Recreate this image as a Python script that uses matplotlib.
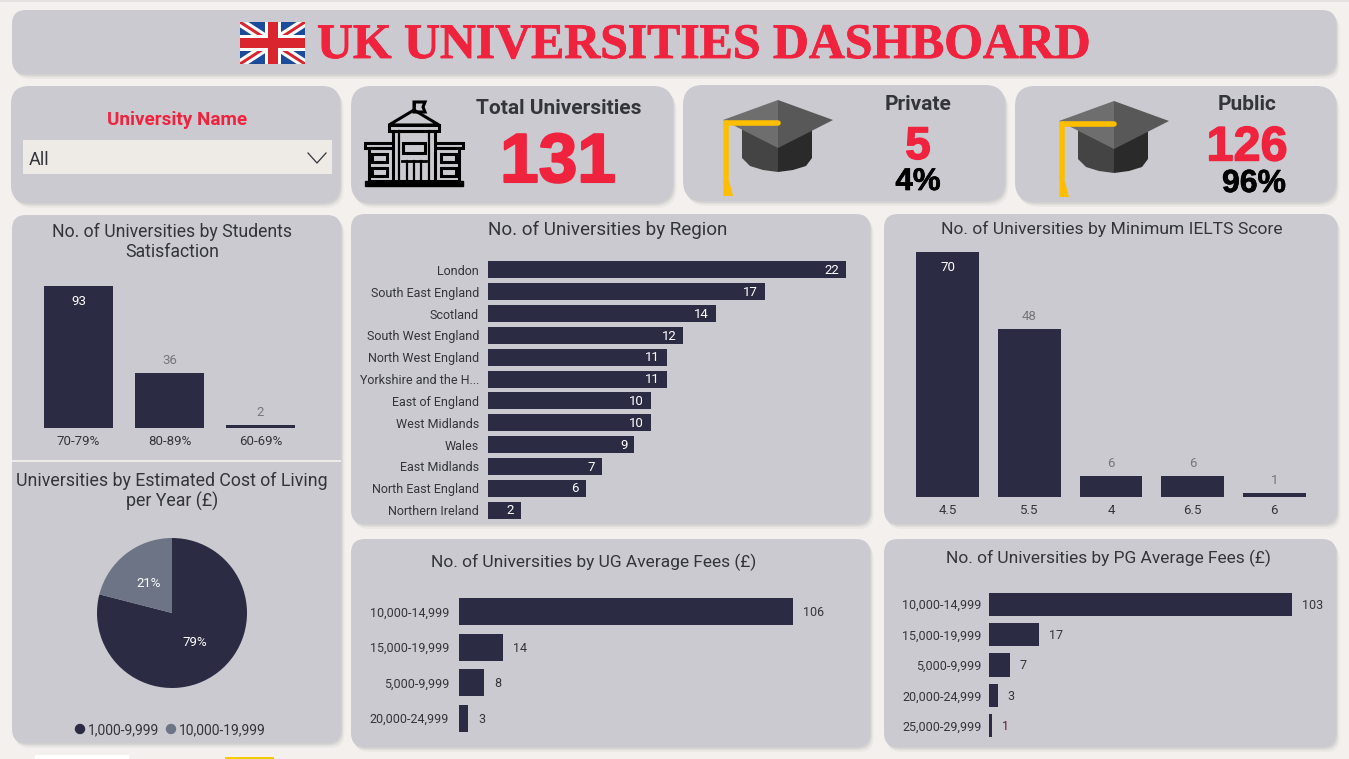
import matplotlib
matplotlib.use("Agg")
import matplotlib.pyplot as plt
import matplotlib.patheffects as pe
from matplotlib.patches import FancyBboxPatch, Rectangle, Polygon, Circle

# values
sat_cat = ["70-79%", "80-89%", "60-69%"]
sat_val = [93, 36, 2]
region_cat = ["London", "South East England", "Scotland", "South West England", "North West England",
              "Yorkshire and the H...", "East of England", "West Midlands", "Wales", "East Midlands",
              "North East England", "Northern Ireland"]
region_val = [22, 17, 14, 12, 11, 11, 10, 10, 9, 7, 6, 2]
ielts_cat = ["4.5", "5.5", "4", "6.5", "6"]
ielts_val = [70, 48, 6, 6, 1]
ug_cat = ["10,000-14,999", "15,000-19,999", "5,000-9,999", "20,000-24,999"]
ug_val = [106, 14, 8, 3]
pg_cat = ["10,000-14,999", "15,000-19,999", "5,000-9,999", "20,000-24,999", "25,000-29,999"]
pg_val = [103, 17, 7, 3, 1]
cost_cat = ["1,000-9,999", "10,000-19,999"]
cost_val = [79, 21]

W, H = 1349, 759
BG = "#F3F0ED"
CARD = "#CBCAD0"
DARK = "#2B2C43"
SLATE = "#6C7485"
RED = "#F0233F"
TXT = "#33353B"
GREY = "#77767A"
FONT = "Roboto"
plt.rcParams["font.family"] = [FONT, "DejaVu Sans"]

fig = plt.figure(figsize=(W / 100, H / 100), dpi=100, facecolor=BG)
bg = fig.add_axes([0, 0, 1, 1], zorder=0)
bg.set_xlim(0, W)
bg.set_ylim(H, 0)
bg.axis("off")


def ax_px(x0, y0, x1, y1):
    ax = fig.add_axes([x0 / W, 1 - y1 / H, (x1 - x0) / W, (y1 - y0) / H], zorder=2)
    ax.patch.set_alpha(0)
    for s in ax.spines.values():
        s.set_visible(False)
    ax.tick_params(length=0)
    return ax


def card(x0, y0, x1, y1, r=14):
    for i, a in zip([5, 3, 1.5], [0.05, 0.07, 0.09]):
        bg.add_patch(FancyBboxPatch((x0 + r + i * 0.7, y0 + r + i), x1 - x0 - 2 * r, y1 - y0 - 2 * r,
                                    boxstyle=f"round,pad={r},rounding_size={r}", fc="#55555f", ec="none", alpha=a))
    bg.add_patch(FancyBboxPatch((x0 + r, y0 + r), x1 - x0 - 2 * r, y1 - y0 - 2 * r,
                                boxstyle=f"round,pad={r},rounding_size={r}", fc=CARD, ec="none"))


def txt(x, y, s, size=12.5, color=TXT, weight="normal", family=None, ha="center", stroke=0):
    t = bg.text(x, y, s, fontsize=size, color=color, weight=weight, family=family or [FONT, "DejaVu Sans"],
                ha=ha, va="center", zorder=5)
    if stroke:
        t.set_path_effects([pe.withStroke(linewidth=stroke, foreground=color)])
    return t


def hbars(box, cat, val, xmax, bar_h, inside=False, fs=9, pad=10):
    ax = ax_px(*box)
    ax.barh(range(len(val)), val, height=bar_h, color=DARK)
    ax.set_xlim(0, xmax)
    ax.set_ylim(len(val) - 0.5, -0.5)
    ax.set_xticks([])
    ax.set_yticks(range(len(val)), cat, fontsize=fs, color=TXT)
    ax.tick_params(axis="y", pad=pad)
    for i, v in enumerate(val):
        if inside:
            ax.annotate(str(v), (v, i), xytext=(-5, -0.5), textcoords="offset points", ha="right", va="center",
                        color="white", fontsize=fs + 0.5)
        else:
            ax.annotate(str(v), (v, i), xytext=(7, -0.7), textcoords="offset points", ha="left", va="center",
                        color=TXT, fontsize=fs)
    return ax


def vbars(box, cat, val, ymax, width, inside_min, fs=9.5):
    ax = ax_px(*box)
    ax.bar(range(len(val)), val, width=width, color=DARK)
    ax.set_xlim(-0.5, len(val) - 0.5)
    ax.set_ylim(0, ymax)
    ax.set_yticks([])
    ax.set_xticks(range(len(val)), cat, fontsize=fs, color=TXT)
    ax.tick_params(axis="x", pad=5)
    for i, v in enumerate(val):
        if v >= inside_min:
            ax.annotate(str(v), (i, v), xytext=(0, -11.5), textcoords="offset points", ha="center", va="center",
                        color="white", fontsize=fs)
        else:
            ax.annotate(str(v), (i, v), xytext=(0, 9), textcoords="offset points", ha="center", va="center",
                        color=GREY, fontsize=fs)
    return ax


def flag(x0, y0, x1, y1):
    clip = Rectangle((x0, y0), x1 - x0, y1 - y0, transform=bg.transData)
    bg.add_patch(Rectangle((x0, y0), x1 - x0, y1 - y0, fc="#1B4C9C", ec="none", zorder=3))
    cx, cy = (x0 + x1) / 2, (y0 + y1) / 2
    for a, b in [((x0, y0), (x1, y1)), ((x0, y1), (x1, y0))]:
        for lw, c in [(9, "white"), (3, "#D9262E")]:
            l, = bg.plot([a[0], b[0]], [a[1], b[1]], color=c, lw=lw * 0.72, zorder=3, solid_capstyle="butt")
            l.set_clip_path(clip)
    bg.add_patch(Rectangle((cx - 8, y0), 16, y1 - y0, fc="white", ec="none", zorder=3))
    bg.add_patch(Rectangle((x0, cy - 8), x1 - x0, 16, fc="white", ec="none", zorder=3))
    bg.add_patch(Rectangle((cx - 5, y0), 10, y1 - y0, fc="#D9262E", ec="none", zorder=3))
    bg.add_patch(Rectangle((x0, cy - 5), x1 - x0, 10, fc="#D9262E", ec="none", zorder=3))


def hat(x, y):
    # x, y is the left corner of the mortar board
    left = [(x + 19, y + 8), (x + 55, y + 24), (x + 55, y + 52), (x + 40, y + 50), (x + 27, y + 46), (x + 19, y + 38)]
    right = [(x + 55, y + 24), (x + 89, y + 8), (x + 89, y + 38), (x + 83, y + 46), (x + 70, y + 50), (x + 55, y + 52)]
    bg.add_patch(Polygon(left, fc="#444444", ec="none", zorder=3))
    bg.add_patch(Polygon(right, fc="#2A2A2A", ec="none", zorder=3))
    bg.add_patch(Polygon([(x, y), (x + 55, y - 20), (x + 55, y + 28)], fc="#6E6E6E", ec="none", zorder=3))
    bg.add_patch(Polygon([(x + 55, y - 20), (x + 110, y), (x + 55, y + 28)], fc="#585858", ec="none", zorder=3))
    bg.plot([x + 3, x + 55], [y + 3, y + 3], color="#FFBE00", lw=4, solid_capstyle="round", zorder=4)
    bg.plot([x + 3, x + 3], [y + 3, y + 57], color="#FFBE00", lw=4, solid_capstyle="round", zorder=4)
    bg.add_patch(Polygon([(x + 0.5, y + 57), (x + 5, y + 57), (x + 10, y + 76), (x + 0.5, y + 76)], fc="#FFBE00", ec="none", zorder=4))


def building(c="black"):
    k = dict(fc="none", ec=c, lw=2.2, zorder=3)
    bg.add_patch(Rectangle((365, 181), 98, 5, fc=c, ec=c, zorder=3))
    bg.add_patch(Rectangle((365, 143), 98, 5, **k))
    bg.add_patch(Rectangle((369, 148), 90, 33, **k))
    bg.add_patch(Rectangle((393, 131), 42, 50, fc=CARD, ec=c, lw=2.2, zorder=3))
    bg.add_patch(Rectangle((389, 125), 50, 6, **k))
    bg.add_patch(Polygon([(389, 125), (414, 110), (439, 125)], **k))
    bg.plot([414, 414], [110, 102], color=c, lw=2, zorder=3)
    bg.add_patch(Polygon([(414, 102), (425, 102), (423, 107), (425, 112), (414, 112)], **k))
    bg.add_patch(Rectangle((403, 143), 22, 10, **k))
    bg.plot([402, 426], [161, 161], color=c, lw=2, zorder=3)
    for xx in [407, 414, 421]:
        bg.plot([xx, xx], [161, 181], color=c, lw=1.6, zorder=3)
    for xx in [399, 429]:
        bg.plot([xx, xx], [131, 181], color=c, lw=1.6, zorder=3)
    for xx in [372, 441]:
        bg.add_patch(Rectangle((xx, 154), 15, 8, **k))
        bg.add_patch(Rectangle((xx, 168), 15, 8, **k))


# page furniture
bg.add_patch(Rectangle((0, 0), W, 2, fc="#E4E2E0", ec="none"))
bg.add_patch(Rectangle((35, 755), 94, 4, fc="white", ec="none"))
bg.add_patch(Rectangle((225, 757), 49, 2, fc="#F5CB00", ec="none"))

card(12, 10, 1336, 74)
card(11, 86, 340, 203, r=18)
card(351, 86, 673, 203, r=20)
card(683, 85, 1005, 201, r=20)
card(1015, 86, 1336, 202, r=20)
card(12, 215, 341, 743)
card(351, 214, 870, 524)
card(884, 214, 1337, 524)
card(351, 539, 870, 747)
card(884, 539, 1336, 747)
bg.add_patch(Rectangle((12, 459.5), 329, 2, fc="#EDEAE7", ec="none", zorder=2))

# header
flag(240, 22, 305, 64)
txt(704, 46, "UK UNIVERSITIES DASHBOARD", size=35.8, color=RED, weight="bold", family="Liberation Serif", stroke=0.6)

# slicer
txt(177, 120, "University Name", size=13.6, color=RED, weight="bold")
bg.add_patch(Rectangle((23, 140), 309, 34, fc="#EEEAE6", ec="none", zorder=2))
txt(29, 160, "All", size=13, ha="left")
bg.plot([308, 317, 326], [153, 163, 153], color=TXT, lw=0.9, zorder=3)

# KPI cards
building()
txt(559, 109, "Total Universities", size=15, weight="bold")
txt(558, 164, "131", size=50, color=RED, weight="bold", family="Liberation Sans", stroke=1.5)
hat(723, 120)
txt(918, 105, "Private", size=15, weight="bold")
txt(918, 147, "5", size=33, color=RED, weight="bold", family="Liberation Sans", stroke=1)
txt(918, 182, "4%", size=22.5, color="black", weight="bold", family="Liberation Sans", stroke=0.5)
hat(1059, 121)
txt(1247, 105, "Public", size=15, weight="bold")
txt(1247, 148, "126", size=35, color=RED, weight="bold", family="Liberation Sans", stroke=1)
txt(1254, 184, "96%", size=23, color="black", weight="bold", family="Liberation Sans", stroke=0.5)

# chart titles
txt(172, 232, "No. of Universities by Students", size=12.7)
txt(172, 252, "Satisfaction", size=12.7)
txt(172, 481, "Universities by Estimated Cost of Living", size=12.8)
txt(172, 501, "per Year (£)", size=12.8)
txt(608, 230, "No. of Universities by Region", size=13.6)
txt(1112, 229, "No. of Universities by Minimum IELTS Score", size=12.6)
txt(594, 562, "No. of Universities by UG Average Fees (£)", size=12.5)
txt(1108, 558, "No. of Universities by PG Average Fees (£)", size=12.5)

# charts
vbars((33, 276, 306, 428), sat_cat, sat_val, 99.5, 0.76, 50)
hbars((488, 259, 846, 521), region_cat, region_val, 22, 0.78, inside=True, pad=6.5)
vbars((907, 243, 1315, 497), ielts_cat, ielts_val, 72.5, 0.77, 50)
hbars((459, 594, 793, 736), ug_cat, ug_val, 106, 0.76, pad=7)
pg = hbars((989, 589, 1292, 741), pg_cat, pg_val, 103, 0.76, pad=5.5)
pg.texts[-1].set_color("#5E1A38")

pie_ax = ax_px(97, 538, 247, 688)
pie_ax.pie(cost_val, colors=[DARK, SLATE], startangle=90, counterclock=False, radius=1,
           autopct="%d%%", pctdistance=0.5, textprops=dict(color="white", fontsize=9.5))
pie_ax.set_xlim(-1, 1)
pie_ax.set_ylim(-1, 1)

# pie legend
bg.add_patch(Circle((80, 729), 5.2, fc=DARK, ec="none", zorder=3))
txt(88, 730, cost_cat[0], size=10, ha="left")
bg.add_patch(Circle((171, 729), 5.2, fc=SLATE, ec="none", zorder=3))
txt(179, 730, cost_cat[1], size=10, ha="left")

fig.savefig("out.png", dpi=100, facecolor=BG)
